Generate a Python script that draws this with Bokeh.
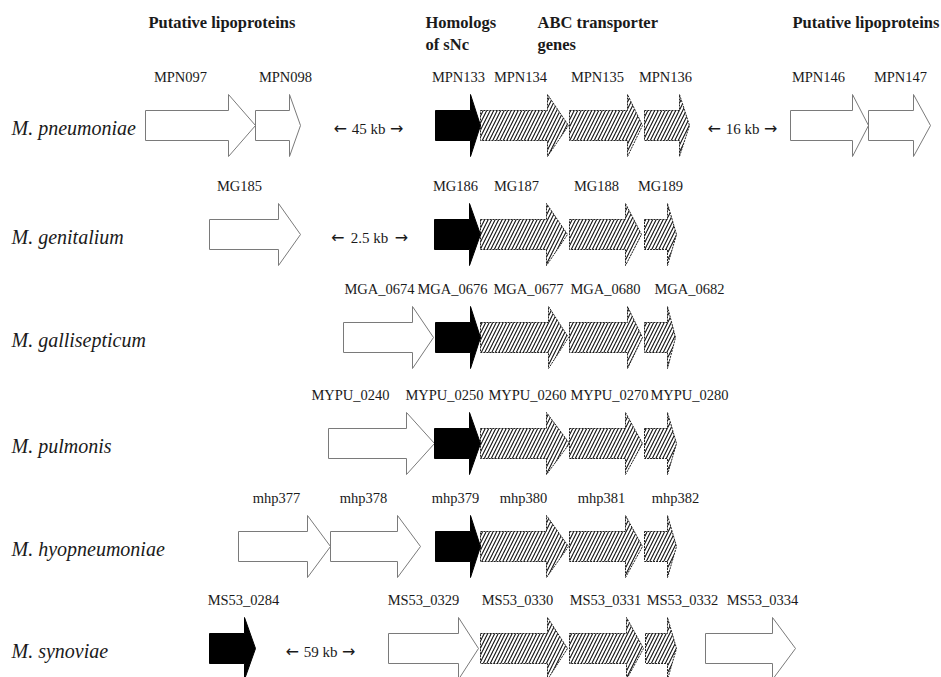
from bokeh.plotting import figure
from bokeh.models import Range1d
from bokeh.core.properties import value
from bokeh.embed import file_html
from bokeh.resources import INLINE

# ---------------- data ----------------
species = ["M. pneumoniae", "M. genitalium", "M. gallisepticum",
           "M. pulmonis", "M. hyopneumoniae", "M. synoviae"]

gene_row = [0, 0, 0, 0, 0, 0, 0, 0,
            1, 1, 1, 1, 1,
            2, 2, 2, 2, 2,
            3, 3, 3, 3, 3,
            4, 4, 4, 4, 4, 4,
            5, 5, 5, 5, 5, 5]
gene_name = ["MPN097", "MPN098", "MPN133", "MPN134", "MPN135", "MPN136", "MPN146", "MPN147",
             "MG185", "MG186", "MG187", "MG188", "MG189",
             "MGA_0674", "MGA_0676", "MGA_0677", "MGA_0680", "MGA_0682",
             "MYPU_0240", "MYPU_0250", "MYPU_0260", "MYPU_0270", "MYPU_0280",
             "mhp377", "mhp378", "mhp379", "mhp380", "mhp381", "mhp382",
             "MS53_0284", "MS53_0329", "MS53_0330", "MS53_0331", "MS53_0332", "MS53_0334"]
gene_kind = ["lipo", "lipo", "snc", "abc", "abc", "abc", "lipo", "lipo",
             "lipo", "snc", "abc", "abc", "abc",
             "lipo", "snc", "abc", "abc", "abc",
             "lipo", "snc", "abc", "abc", "abc",
             "lipo", "lipo", "snc", "abc", "abc", "abc",
             "snc", "lipo", "abc", "abc", "abc", "lipo"]
gene_start = [145, 255, 435, 480, 569, 644, 790, 868,
              209, 434, 480, 569, 644,
              343, 435, 480, 569, 644,
              328, 434, 480, 569, 644,
              238, 330, 435, 480, 569, 644,
              209, 388, 480, 569, 645, 705]
gene_head = [228, 289, 470, 547, 627, 679, 852, 913,
             278, 469, 546, 625, 667,
             412, 470, 548, 627, 667,
             406, 469, 546, 625, 667,
             307, 397, 470, 546, 625, 667,
             244, 458, 547, 626, 667, 772]
gene_end = [255, 300, 480, 568, 642, 689, 868, 930,
            300, 480, 567, 641, 676,
            433, 480, 568, 642, 675,
            434, 480, 569, 642, 676,
            330, 420, 480, 568, 642, 676,
            255, 478, 567, 643, 676, 795]
label_x = [180, 285, 458, 520, 597, 665, 818, 900,
           239, 455, 516, 596, 660,
           379, 452, 528, 605, 689,
           350, 444, 527, 609, 689,
           276, 363, 455, 523, 601, 675,
           243, 423, 517, 605, 682, 762]

gap_row = [0, 0, 1, 5]
gap_text = ["45 kb", "16 kb", "2.5 kb", "59 kb"]
gap_x = [368, 742, 369, 320]

header_lines = ["Putative lipoproteins", "Homologs", "of sNc", "ABC transporter", "genes",
                "Putative lipoproteins"]

# ---------------- layout ----------------
row_y = [125, 234, 337, 443, 546, 648]
label_dy = -49
body_half = 15
head_half = 31
FONT = value("Liberation Serif")
TXT = "#1a1a1a"

p = figure(width=941, height=677, output_backend="svg", toolbar_location=None,
           x_range=Range1d(0, 941), y_range=Range1d(677, 0), min_border=0)
p.axis.visible = False
p.grid.visible = False
p.outline_line_color = None
p.background_fill_color = "white"
p.border_fill_color = "white"

styles = {
    "lipo": dict(fill_color="white", line_color="#7a7a7a", line_width=1),
    "snc": dict(fill_color="black", line_color="black", line_width=1),
    "abc": dict(fill_color="white", line_color="#222222", line_width=1, line_dash="2 1",
                hatch_pattern="/", hatch_color="#111111", hatch_scale=7, hatch_weight=1.1),
}

for kind in ["lipo", "abc", "snc"]:
    xs, ys = [], []
    for r, k, s, h, e in zip(gene_row, gene_kind, gene_start, gene_head, gene_end):
        if k != kind:
            continue
        y = row_y[r]
        xs.append([s, h, h, e, h, h, s])
        ys.append([y - body_half, y - body_half, y - head_half, y,
                   y + head_half, y + body_half, y + body_half])
    p.patches(xs, ys, **styles[kind])

# gene labels
p.text(x=label_x, y=[row_y[r] + label_dy for r in gene_row], text=gene_name,
       text_font=FONT, text_font_size="14.5px", text_color=TXT,
       text_align="center", text_baseline="middle")

# species labels
p.text(x=[11] * len(species), y=[y + 2 for y in row_y], text=species,
       text_font=FONT, text_font_size="20px", text_font_style="italic",
       text_color=TXT, text_align="left", text_baseline="middle")

# gap labels: text with long arrows on either side
gy = [row_y[r] + 3 for r in gap_row]
half_w = [3.7 * len(t) for t in gap_text]
p.text(x=gap_x, y=gy, text=gap_text,
       text_font=FONT, text_font_size="15px", text_color=TXT,
       text_align="center", text_baseline="middle")
p.text(x=[x - w - 3 for x, w in zip(gap_x, half_w)], y=gy, text=["\u2190"] * len(gap_x),
       text_font=value("DejaVu Sans"), text_font_size="16px", text_color=TXT,
       text_align="right", text_baseline="middle")
p.text(x=[x + w + 3 for x, w in zip(gap_x, half_w)], y=gy, text=["\u2192"] * len(gap_x),
       text_font=value("DejaVu Sans"), text_font_size="16px", text_color=TXT,
       text_align="left", text_baseline="middle")

# headers
hx = [148, 425, 425, 537, 537, 792]
hy = [22, 22, 44, 22, 44, 22]
p.text(x=hx, y=hy, text=header_lines, text_font=FONT, text_font_size="16.5px",
       text_font_style="bold", text_color=TXT,
       text_align="left", text_baseline="middle")

open("out.html", "w").write(file_html(p, INLINE))
